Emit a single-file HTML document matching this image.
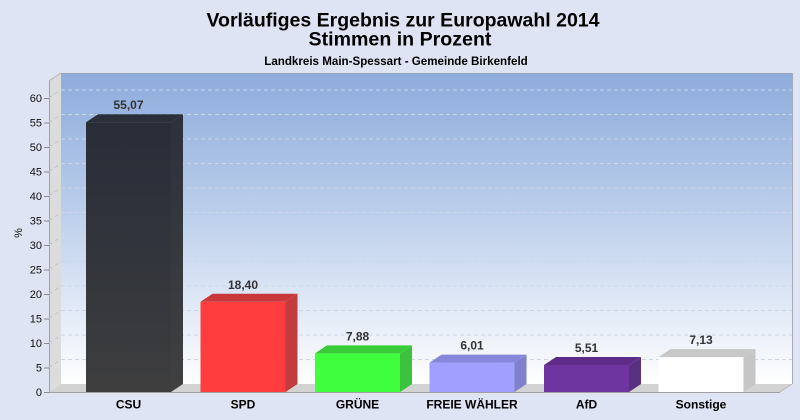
<!DOCTYPE html>
<html><head><meta charset="utf-8"><style>
html,body{margin:0;padding:0;background:#dee4f3;}
svg{display:block;font-family:"Liberation Sans",Arial,sans-serif;}
</style></head><body>
<svg width="800" height="420" viewBox="0 0 800 420" xmlns="http://www.w3.org/2000/svg">
<defs>
<linearGradient id="wall" x1="0" y1="0" x2="0" y2="1">
<stop offset="0" stop-color="#8dabdc"/>
<stop offset="0.45" stop-color="#bccfeb"/>
<stop offset="0.8" stop-color="#e6edf8"/>
<stop offset="1" stop-color="#ffffff"/>
</linearGradient>
<linearGradient id="csu" x1="0" y1="0" x2="0" y2="1">
<stop offset="0" stop-color="#282d38"/>
<stop offset="0.5" stop-color="#32353c"/>
<stop offset="1" stop-color="#3e3e3e"/>
</linearGradient>
<linearGradient id="csus" x1="0" y1="0" x2="0" y2="1">
<stop offset="0" stop-color="#2c313b"/>
<stop offset="1" stop-color="#404040"/>
</linearGradient>
</defs>
<rect width="800" height="420" fill="#dee4f3"/>
<text x="403" y="26.5" font-size="19.5" font-weight="bold" text-anchor="middle" fill="#000">Vorläufiges Ergebnis zur Europawahl 2014</text>
<text x="400" y="45.5" font-size="19.6" font-weight="bold" text-anchor="middle" fill="#000">Stimmen in Prozent</text>
<text x="396" y="65" font-size="11.6" font-weight="bold" text-anchor="middle" fill="#000">Landkreis Main-Spessart - Gemeinde Birkenfeld</text>

<rect x="61" y="73" width="731" height="311" fill="url(#wall)"/>
<line x1="61" y1="73.5" x2="792" y2="73.5" stroke="#9aa6b8" stroke-width="1"/>
<line x1="792.5" y1="73" x2="792.5" y2="384" stroke="#a8adb5" stroke-width="1"/>
<polygon points="49,81 61,73 61,384 49,392" fill="#dcdcdc"/>
<line x1="49.5" y1="81" x2="49.5" y2="392" stroke="#a0a0a0"/>
<line x1="49" y1="81" x2="61" y2="73" stroke="#b0b0b0"/>
<polygon points="49,392 61,384 792,384 780,392" fill="#d3d3d3"/>
<line x1="49" y1="392.5" x2="780" y2="392.5" stroke="#a0a0a0"/>
<line x1="780" y1="392" x2="792" y2="384" stroke="#b8b8b8"/>

<g stroke="#cdd6e6" stroke-width="1" stroke-dasharray="4,3" fill="none">
<path d="M61 359.5H792M61 335H792M61 310.5H792M61 286H792M61 261.5H792M61 237H792M61 212.5H792M61 188H792M61 163.5H792M61 139H792M61 114.5H792M61 90H792"/>
<path d="M49 367.5L61 359.5M49 343L61 335M49 318.5L61 310.5M49 294L61 286M49 269.5L61 261.5M49 245L61 237M49 220.5L61 212.5M49 196L61 188M49 171.5L61 163.5M49 147L61 139M49 122.5L61 114.5M49 98L61 90" stroke="#c4c4c4"/>
</g>

<g stroke="#8a8a8a" stroke-width="1">
<path d="M44 392.5H49M44 368H49M44 343.5H49M44 319H49M44 294.5H49M44 270H49M44 245.5H49M44 221H49M44 196.5H49M44 172H49M44 147.5H49M44 123H49M44 98.5H49"/>
</g>
<g font-size="11" fill="#111" text-anchor="end">
<text x="42" y="396">0</text>
<text x="42" y="371.5">5</text>
<text x="42" y="347">10</text>
<text x="42" y="322.5">15</text>
<text x="42" y="298">20</text>
<text x="42" y="273.5">25</text>
<text x="42" y="249">30</text>
<text x="42" y="224.5">35</text>
<text x="42" y="200">40</text>
<text x="42" y="175.5">45</text>
<text x="42" y="151">50</text>
<text x="42" y="126.5">55</text>
<text x="42" y="102">60</text>
</g>
<text x="22" y="233" font-size="11" fill="#111" text-anchor="middle" transform="rotate(-90 22 233)">%</text>

<g>
<rect x="86" y="122.2" width="85" height="269.8" fill="url(#csu)"/>
<polygon points="171,122.2 183,114.2 183,384 171,392" fill="url(#csus)"/>
<polygon points="86,122.2 98,114.2 183,114.2 171,122.2" fill="#2a2f3a"/>
</g>
<g>
<rect x="200.5" y="301.8" width="85" height="90.2" fill="#ff3c3e"/>
<polygon points="285.5,301.8 297.5,293.8 297.5,384 285.5,392" fill="#c23c3e"/>
<polygon points="200.5,301.8 212.5,293.8 297.5,293.8 285.5,301.8" fill="#c8383a"/>
</g>
<g>
<rect x="315" y="353.4" width="85" height="38.6" fill="#3efe3e"/>
<polygon points="400,353.4 412,345.4 412,384 400,392" fill="#3cc23c"/>
<polygon points="315,353.4 327,345.4 412,345.4 400,353.4" fill="#38cc38"/>
</g>
<g>
<rect x="429.5" y="362.6" width="85" height="29.4" fill="#a0a0fe"/>
<polygon points="514.5,362.6 526.5,354.6 526.5,384 514.5,392" fill="#8080cc"/>
<polygon points="429.5,362.6 441.5,354.6 526.5,354.6 514.5,362.6" fill="#8686dc"/>
</g>
<g>
<rect x="544" y="365" width="85" height="27" fill="#6e34a0"/>
<polygon points="629,365 641,357 641,384 629,392" fill="#5a3080"/>
<polygon points="544,365 556,357 641,357 629,365" fill="#5e2c88"/>
</g>
<g>
<rect x="658.5" y="357.1" width="85" height="34.9" fill="#ffffff"/>
<polygon points="743.5,357.1 755.5,349.1 755.5,384 743.5,392" fill="#c6c6c6"/>
<polygon points="658.5,357.1 670.5,349.1 755.5,349.1 743.5,357.1" fill="#c8c8c8"/>
</g>

<g font-size="12" font-weight="bold" fill="#333" text-anchor="middle">
<text x="128.5" y="109.2">55,07</text>
<text x="243" y="288.8">18,40</text>
<text x="357.5" y="340.4">7,88</text>
<text x="472" y="349.6">6,01</text>
<text x="586.5" y="352">5,51</text>
<text x="701" y="344.1">7,13</text>
</g>
<g font-size="12" font-weight="bold" fill="#000" text-anchor="middle">
<text x="128.5" y="408.5">CSU</text>
<text x="243" y="408.5">SPD</text>
<text x="357.5" y="408.5">GRÜNE</text>
<text x="472" y="408.5">FREIE WÄHLER</text>
<text x="586.5" y="408.5">AfD</text>
<text x="701" y="408.5">Sonstige</text>
</g>
</svg>
</body></html>
